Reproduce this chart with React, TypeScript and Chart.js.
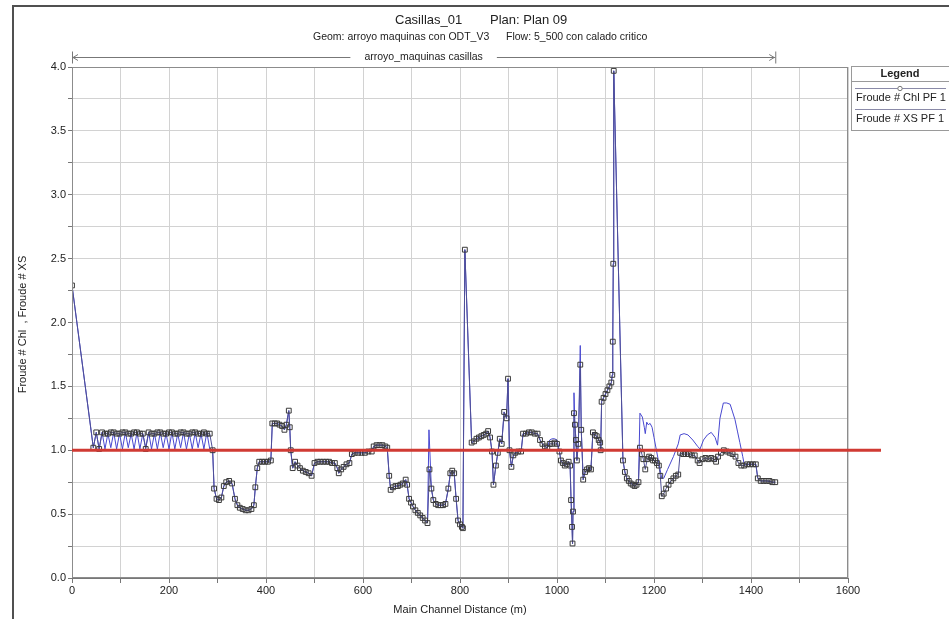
import React, { useEffect, useRef } from 'react';
import { Chart, registerables } from 'chart.js';

Chart.register(...registerables);

// ---------- Text ----------
const titleMain = 'Casillas_01';
const titlePlan = 'Plan: Plan 09';
const subtitleGeom = 'Geom: arroyo maquinas con ODT_V3';
const subtitleFlow = 'Flow: 5_500 con calado critico';
const reachName = 'arroyo_maquinas casillas';
const reachStart = 0;
const reachEnd = 1450;
const xAxisTitle = 'Main Channel Distance (m)';
const yAxisTitle = 'Froude # Chl  , Froude # XS';
const legendTitle = 'Legend';
const chlLabel = 'Froude # Chl PF 1';
const xsLabel = 'Froude # XS PF 1';
const referenceFroude = 1.0;

// ---------- Axes ----------
const xMin = 0;
const xMax = 1600;
const xStep = 100;
const xLabelEvery = 200;
const yMin = 0;
const yMax = 4;
const yStep = 0.25;
const yLabelEvery = 0.5;

// ---------- Data: Froude # Chl PF 1 ----------
const chlDistance = [
  0, 44, 50, 56, 62, 68, 74, 80, 86, 92, 98, 104, 110, 116, 122, 128, 134, 140, 146, 152,
  158, 164, 170, 176, 182, 188, 194, 200, 206, 212, 218, 224, 230, 236, 242, 248, 254, 260, 266, 272,
  278, 284, 290,
  293, 298, 303, 308, 313, 318, 324, 330, 336, 341, 346, 352, 358, 364, 370, 375, 378, 382, 386, 392,
  398, 404, 410, 413, 418, 423, 428, 433, 438, 442, 447, 449, 451, 455, 460, 465, 470, 476, 482, 488,
  494, 500, 506, 512, 518, 524, 530, 536, 542, 547, 550, 555, 560, 566, 572, 577, 583, 590, 597, 604,
  611, 618, 622, 628, 634, 640, 646, 650, 654, 657, 662, 667, 672, 677, 682, 688, 691, 695, 699, 703,
  708, 713, 718, 723, 728, 733,
  737,
  741, 745, 750, 755, 760, 765, 770, 776, 780, 784, 788, 792, 796, 800, 804, 806, 810, 824, 829, 834,
  839, 844, 849, 854, 858, 862, 866, 869, 874, 878, 882, 886, 891, 896, 899, 902, 906, 910, 914, 920,
  926, 930, 936, 942, 948, 954, 960, 965, 970, 975, 980, 985, 990, 995, 1000, 1005, 1008, 1012, 1016, 1020,
  1024, 1027, 1029, 1031, 1032, 1033,
  1035,
  1037, 1039, 1041, 1044,
  1048,
  1050, 1054, 1058, 1062, 1066, 1070, 1074, 1078, 1082, 1086, 1089, 1090, 1092, 1096, 1100, 1104, 1108, 1112, 1114, 1115,
  1116, 1117,
  1136, 1140, 1144, 1148, 1152, 1156, 1160, 1164, 1168, 1171, 1175, 1178, 1182, 1186, 1190, 1194, 1198, 1202, 1206, 1210,
  1213, 1216, 1220, 1225, 1230, 1235, 1240, 1245, 1250, 1254, 1260, 1266, 1272, 1278, 1284, 1290, 1294, 1300, 1306, 1312,
  1318, 1324, 1328, 1332, 1338, 1344, 1350, 1356, 1362, 1368, 1374, 1380, 1386, 1392, 1398, 1404, 1410, 1414, 1420, 1426,
  1432, 1438, 1444, 1450,
];
const chlFroude = [
  2.29, 1.02, 1.14, 1.01, 1.14, 1.13, 1.13, 1.14, 1.14, 1.13, 1.13, 1.14, 1.14, 1.13, 1.13, 1.14, 1.14, 1.13, 1.13, 1.01,
  1.14, 1.13, 1.13, 1.14, 1.14, 1.13, 1.13, 1.14, 1.14, 1.13, 1.13, 1.14, 1.14, 1.13, 1.13, 1.14, 1.14, 1.13, 1.13, 1.14,
  1.13, 1.13, 1.0,
  0.70, 0.62, 0.61, 0.63, 0.72, 0.75, 0.76, 0.74, 0.62, 0.57, 0.55, 0.54, 0.53, 0.53, 0.54, 0.57, 0.71, 0.86, 0.91, 0.91,
  0.91, 0.91, 0.92, 1.21, 1.21, 1.21, 1.20, 1.19, 1.16, 1.20, 1.31, 1.18, 1.00, 0.86, 0.91, 0.88, 0.86, 0.84, 0.83, 0.82,
  0.80, 0.90, 0.91, 0.91, 0.91, 0.91, 0.91, 0.90, 0.90, 0.86, 0.82, 0.85, 0.87, 0.89, 0.90, 0.97, 0.98, 0.98, 0.98, 0.98,
  0.99, 0.99, 1.03, 1.04, 1.04, 1.04, 1.03, 1.02, 0.80, 0.69, 0.71, 0.72, 0.72, 0.73, 0.74, 0.77, 0.73, 0.62, 0.59, 0.56,
  0.53, 0.51, 0.49, 0.47, 0.45, 0.43,
  0.85,
  0.70, 0.61, 0.58, 0.57, 0.57, 0.57, 0.58, 0.70, 0.82, 0.84, 0.82, 0.62, 0.45, 0.42, 0.40, 0.39, 2.57, 1.06, 1.07, 1.09,
  1.10, 1.11, 1.12, 1.13, 1.15, 1.10, 0.99, 0.73, 0.88, 0.98, 1.09, 1.05, 1.30, 1.25, 1.56, 1.00, 0.87, 0.96, 0.98, 0.99,
  0.99, 1.13, 1.13, 1.14, 1.14, 1.13, 1.13, 1.08, 1.05, 1.03, 1.02, 1.05, 1.05, 1.06, 1.05, 0.99, 0.92, 0.90, 0.88, 0.89,
  0.91, 0.88, 0.61, 0.40, 0.27, 0.52,
  1.29,
  1.20, 1.08, 0.92, 1.05,
  1.67,
  1.16, 0.77, 0.83, 0.85, 0.86, 0.85, 1.14, 1.12, 1.11, 1.08, 1.06, 1.00, 1.38, 1.41, 1.44, 1.47, 1.50, 1.53, 1.59, 1.85,
  2.46, 3.97,
  0.92, 0.83, 0.78, 0.76, 0.74, 0.73, 0.72, 0.73, 0.75, 1.02, 0.97, 0.93, 0.85, 0.93, 0.95, 0.94, 0.92, 0.92, 0.90, 0.88,
  0.80, 0.64, 0.66, 0.70, 0.73, 0.76, 0.78, 0.80, 0.81, 0.98, 0.97, 0.97, 0.97, 0.96, 0.96, 0.92, 0.90, 0.93, 0.94, 0.93,
  0.94, 0.93, 0.91, 0.95, 0.98, 1.00, 0.99, 0.98, 0.97, 0.95, 0.90, 0.88, 0.88, 0.89, 0.89, 0.89, 0.89, 0.78, 0.76, 0.76,
  0.76, 0.76, 0.75, 0.75,
];

// ---------- Data: Froude # XS PF 1 ----------
const xsDistance = [
  0, 44, 50, 56, 62, 68, 74, 80, 86, 92, 98, 104, 110, 116, 122, 128, 134, 140, 146, 152,
  158, 164, 170, 176, 182, 188, 194, 200, 206, 212, 218, 224, 230, 236, 242, 248, 254, 260, 266, 272,
  278, 284, 290,
  293, 298, 303, 308, 313, 318, 324, 330, 336, 341, 346, 352, 358, 364, 370, 375, 378, 382, 386, 392,
  398, 404, 410, 413, 418, 423, 428, 433, 438, 442, 447, 449, 451, 455, 460, 465, 470, 476, 482, 488,
  494, 500, 506, 512, 518, 524, 530, 536, 542, 547, 550, 555, 560, 566, 572, 577, 583, 590, 597, 604,
  611, 618, 622, 628, 634, 640, 646, 650, 654, 657, 662, 667, 672, 677, 682, 688, 691, 695, 699, 703,
  708, 713, 718, 723, 728, 733,
  736,
  741, 745, 750, 755, 760, 765, 770, 776, 780, 784, 788, 792, 796, 800, 804, 806, 810, 824, 829, 834,
  839, 844, 849, 854, 858, 862, 866, 869, 874, 878, 882, 886, 891, 896, 899, 902, 906, 910, 914, 920,
  926, 930, 936, 942, 948, 954, 960, 965, 970, 975, 980, 985, 990, 995, 1000, 1005, 1008, 1012, 1016, 1020,
  1024, 1027, 1029, 1031, 1032, 1033,
  1035,
  1037, 1039, 1041, 1044,
  1048,
  1050, 1054, 1058, 1062, 1066, 1070, 1074, 1078, 1082, 1086, 1089, 1090, 1092, 1096, 1100, 1104, 1108, 1112, 1114, 1115,
  1116, 1117,
  1136, 1140, 1144, 1150, 1160, 1168, 1171, 1176, 1180, 1182, 1185, 1188, 1192, 1196, 1200, 1205, 1210, 1216, 1220, 1228,
  1240, 1250, 1254, 1262, 1270, 1280, 1290, 1295, 1302, 1310, 1318, 1326, 1331, 1336, 1343, 1350, 1357, 1362, 1367, 1372,
  1377, 1383, 1386, 1392, 1398, 1404, 1410, 1414, 1420, 1432, 1444, 1450,
];
const xsFroude = [
  2.29, 1.02, 1.14, 1.01, 1.14, 1.01, 1.13, 1.02, 1.14, 1.01, 1.13, 1.01, 1.14, 1.02, 1.13, 1.01, 1.14, 1.01, 1.13, 1.02,
  1.14, 1.01, 1.13, 1.01, 1.14, 1.02, 1.13, 1.01, 1.14, 1.01, 1.13, 1.02, 1.14, 1.01, 1.13, 1.01, 1.14, 1.02, 1.13, 1.01,
  1.14, 1.01, 1.0,
  0.70, 0.62, 0.61, 0.63, 0.72, 0.75, 0.76, 0.74, 0.62, 0.57, 0.55, 0.54, 0.53, 0.53, 0.54, 0.57, 0.71, 0.86, 0.91, 0.91,
  0.91, 0.91, 0.92, 1.21, 1.21, 1.21, 1.20, 1.19, 1.16, 1.20, 1.31, 1.18, 1.00, 0.86, 0.91, 0.88, 0.86, 0.84, 0.83, 0.82,
  0.80, 0.90, 0.91, 0.91, 0.91, 0.91, 0.91, 0.90, 0.90, 0.86, 0.82, 0.85, 0.87, 0.89, 0.90, 0.97, 0.98, 0.98, 0.98, 0.98,
  0.99, 0.99, 1.03, 1.04, 1.04, 1.04, 1.03, 1.02, 0.80, 0.69, 0.71, 0.72, 0.72, 0.73, 0.74, 0.77, 0.73, 0.62, 0.59, 0.56,
  0.53, 0.51, 0.49, 0.47, 0.45, 0.43,
  1.16,
  0.70, 0.61, 0.58, 0.57, 0.57, 0.57, 0.58, 0.70, 0.82, 0.84, 0.82, 0.62, 0.45, 0.42, 0.40, 0.39, 2.57, 1.06, 1.07, 1.09,
  1.10, 1.11, 1.12, 1.13, 1.15, 1.10, 0.99, 0.73, 0.88, 0.98, 1.09, 1.05, 1.30, 1.25, 1.56, 1.00, 0.87, 0.96, 0.98, 0.99,
  0.99, 1.13, 1.13, 1.14, 1.14, 1.13, 1.13, 1.08, 1.05, 1.03, 1.02, 1.08, 1.09, 1.09, 1.08, 0.99, 0.92, 0.90, 0.88, 0.89,
  0.91, 0.88, 0.61, 0.40, 0.27, 0.52,
  1.45,
  1.20, 1.08, 0.92, 1.05,
  1.82,
  1.16, 0.77, 0.83, 0.85, 0.86, 0.85, 1.14, 1.12, 1.11, 1.08, 1.06, 1.00, 1.38, 1.41, 1.44, 1.47, 1.50, 1.53, 1.59, 1.85,
  2.46, 3.97,
  0.92, 0.83, 0.78, 0.75, 0.72, 0.75, 1.29, 1.26, 1.18, 1.13, 1.22, 1.20, 1.21, 1.18, 1.10, 1.00, 0.90, 0.78, 0.78, 0.85,
  0.95, 1.05, 1.12, 1.13, 1.12, 1.08, 1.03, 1.01, 1.08, 1.12, 1.14, 1.10, 1.04, 1.25, 1.37, 1.37, 1.36, 1.30, 1.24, 1.15,
  1.06, 0.95, 0.89, 0.89, 0.89, 0.89, 0.89, 0.78, 0.76, 0.76, 0.75, 0.75,
];

const FONT = "'Liberation Sans', Arial, sans-serif";

const overlayPlugin = {
  id: 'overlay',
  afterDraw(chart: any) {
    const { ctx, chartArea, scales } = chart;
    const xs = scales.x;
    const ys = scales.y;
    ctx.save();

    // outer frame
    ctx.strokeStyle = '#505050';
    ctx.lineWidth = 2;
    ctx.beginPath();
    ctx.moveTo(13, 619);
    ctx.lineTo(13, 6);
    ctx.lineTo(949, 6);
    ctx.stroke();

    // plot border
    ctx.strokeStyle = '#8c8c8c';
    ctx.lineWidth = 1;
    ctx.strokeRect(chartArea.left + 0.5, chartArea.top + 0.5, chartArea.right - chartArea.left - 1, chartArea.bottom - chartArea.top - 1);

    // titles
    ctx.fillStyle = '#222';
    ctx.textBaseline = 'middle';
    ctx.textAlign = 'left';
    ctx.font = `13px ${FONT}`;
    ctx.fillText(titleMain, 395, 20);
    ctx.fillText(titlePlan, 490, 20);
    ctx.font = `10.5px ${FONT}`;
    ctx.fillText(subtitleGeom, 313, 37);
    ctx.fillText(subtitleFlow, 506, 37);

    // reach bracket
    const rx0 = xs.getPixelForValue(reachStart);
    const rx1 = xs.getPixelForValue(reachEnd);
    const ry = 57.5;
    ctx.font = `10.5px ${FONT}`;
    const tw = ctx.measureText(reachName).width;
    const cx = (rx0 + rx1) / 2;
    ctx.strokeStyle = '#777';
    ctx.lineWidth = 1;
    ctx.beginPath();
    ctx.moveTo(rx0, ry);
    ctx.lineTo(cx - tw / 2 - 14, ry);
    ctx.moveTo(cx + tw / 2 + 14, ry);
    ctx.lineTo(rx1, ry);
    ctx.moveTo(rx0 + 0.5, ry - 6);
    ctx.lineTo(rx0 + 0.5, ry + 6);
    ctx.moveTo(rx1 + 0.5, ry - 6);
    ctx.lineTo(rx1 + 0.5, ry + 6);
    ctx.moveTo(rx0 + 6, ry - 3);
    ctx.lineTo(rx0 + 1, ry);
    ctx.lineTo(rx0 + 6, ry + 3);
    ctx.moveTo(rx1 - 6, ry - 3);
    ctx.lineTo(rx1 - 1, ry);
    ctx.lineTo(rx1 - 6, ry + 3);
    ctx.stroke();
    ctx.fillStyle = '#222';
    ctx.textAlign = 'center';
    ctx.fillText(reachName, cx, ry);

    // axis titles
    ctx.font = `11px ${FONT}`;
    ctx.textAlign = 'center';
    ctx.fillText(xAxisTitle, (chartArea.left + chartArea.right) / 2, 610);
    ctx.save();
    ctx.translate(23, (chartArea.top + chartArea.bottom) / 2 + 2);
    ctx.rotate(-Math.PI / 2);
    ctx.fillText(yAxisTitle, 0, 0);
    ctx.restore();

    // legend box
    const lx = 851;
    ctx.fillStyle = '#ffffff';
    ctx.fillRect(lx, 66, 110, 65);
    ctx.strokeStyle = '#9a9a9a';
    ctx.lineWidth = 1;
    ctx.strokeRect(lx + 0.5, 66.5, 110, 64);
    ctx.beginPath();
    ctx.moveTo(lx, 81.5);
    ctx.lineTo(949, 81.5);
    ctx.stroke();
    ctx.fillStyle = '#222';
    ctx.font = `bold 11px ${FONT}`;
    ctx.textAlign = 'center';
    ctx.fillText(legendTitle, 900, 74);
    // chl sample
    ctx.strokeStyle = '#8a8aa8';
    ctx.beginPath();
    ctx.moveTo(lx + 4, 88.5);
    ctx.lineTo(946, 88.5);
    ctx.stroke();
    ctx.fillStyle = '#ffffff';
    ctx.strokeStyle = '#777';
    ctx.beginPath();
    ctx.arc(900, 88.5, 2.2, 0, Math.PI * 2);
    ctx.fill();
    ctx.stroke();
    ctx.fillStyle = '#222';
    ctx.font = `11px ${FONT}`;
    ctx.textAlign = 'left';
    ctx.fillText(chlLabel, lx + 5, 98);
    // xs sample
    ctx.strokeStyle = '#8a8aa8';
    ctx.beginPath();
    ctx.moveTo(lx + 4, 109.5);
    ctx.lineTo(946, 109.5);
    ctx.stroke();
    ctx.fillText(xsLabel, lx + 5, 119);

    // reference line at Froude = 1
    const yr = ys.getPixelForValue(referenceFroude);
    ctx.strokeStyle = '#d03a33';
    ctx.lineWidth = 3;
    ctx.beginPath();
    ctx.moveTo(chartArea.left, yr);
    ctx.lineTo(chartArea.right + 33, yr);
    ctx.stroke();

    ctx.restore();
  },
};

export default function App() {
  const canvasRef = useRef<HTMLCanvasElement | null>(null);

  useEffect(() => {
    if (!canvasRef.current) return;
    const chlData = chlDistance.map((d, i) => ({ x: d, y: chlFroude[i] }));
    const xsData = xsDistance.map((d, i) => ({ x: d, y: xsFroude[i] }));
    const chart = new Chart(canvasRef.current, {
      type: 'scatter',
      data: {
        datasets: [
          {
            label: chlLabel,
            data: chlData,
            showLine: true,
            borderColor: '#4e4e96',
            borderWidth: 1,
            pointStyle: 'rect',
            pointRadius: 3.4,
            pointBorderWidth: 1,
            pointBorderColor: '#3a3a3a',
            pointBackgroundColor: 'rgba(255,255,255,0)',
            tension: 0,
          },
          {
            label: xsLabel,
            data: xsData,
            showLine: true,
            borderColor: '#4848d0',
            borderWidth: 1,
            pointRadius: 0,
            tension: 0,
          },
        ],
      },
      plugins: [overlayPlugin],
      options: {
        animation: false,
        responsive: true,
        maintainAspectRatio: false,
        events: [],
        layout: { padding: { left: 0, right: 101, top: 67, bottom: 0 } },
        plugins: {
          legend: { display: false },
          title: { display: false },
          tooltip: { enabled: false },
        },
        scales: {
          x: {
            type: 'linear',
            min: xMin,
            max: xMax,
            afterFit: (s: any) => { s.height = 41; },
            ticks: {
              stepSize: xStep,
              autoSkip: false,
              maxRotation: 0,
              padding: 1,
              color: '#222',
              font: { family: FONT, size: 11 },
              callback: (v: any) => (Number(v) % xLabelEvery === 0 ? String(v) : ''),
            },
            grid: { color: '#d2d2d2', lineWidth: 1, tickLength: 5, tickColor: '#777' },
            border: { color: '#777' },
          },
          y: {
            type: 'linear',
            min: yMin,
            max: yMax,
            afterFit: (s: any) => { s.width = 72; },
            ticks: {
              stepSize: yStep,
              autoSkip: false,
              padding: 2,
              color: '#222',
              font: { family: FONT, size: 11 },
              callback: (v: any) => (Math.abs(Number(v) / yLabelEvery - Math.round(Number(v) / yLabelEvery)) < 1e-6 ? Number(v).toFixed(1) : ''),
            },
            grid: { color: '#d2d2d2', lineWidth: 1, tickLength: 4, tickColor: '#777' },
            border: { color: '#777' },
          },
        },
      },
    });
    return () => chart.destroy();
  }, []);

  return (
    <div style={{ position: 'fixed', left: 0, top: 0, width: 949, height: 619, background: '#fff' }}>
      <canvas ref={canvasRef} />
    </div>
  );
}
